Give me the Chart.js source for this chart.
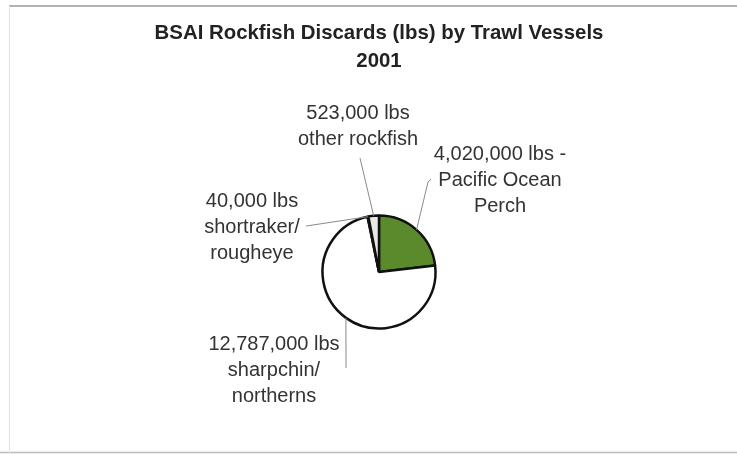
<!DOCTYPE html>
<html>
<head>
<meta charset="utf-8">
<script src="https://cdn.jsdelivr.net/npm/chart.js@4/dist/chart.umd.min.js"></script>
<style>
body{margin:0;background:#fff;}
#wrap{width:737px;height:454px;}
</style>
</head>
<body>
<div id="wrap"><canvas id="discardChart" width="737" height="454"></canvas></div>
<script>
// 2001 BSAI rockfish discards by trawl vessels
const categories = ["Pacific Ocean Perch","sharpchin/northerns","shortraker/rougheye","other rockfish"];
const discards = [4020000,12787000,40000,523000];
const nameLines = [["Pacific Ocean","Perch"],["sharpchin/","northerns"],["shortraker/","rougheye"],["other rockfish"]];
const valueSuffix = [" lbs -"," lbs"," lbs"," lbs"];
const sliceColors = ["#5a8a2c","#ffffff","#ffffff","#e9e9e9"];

// label text centre and leader line end, relative to pie centre
const labelPos = [[121,-118],[-105,72],[-127,-71],[-21,-159]];
const leaderEnd = [[49,-90],[-33,96],[-73,-46],[-19,-114]];

const labelFont = "20px 'Liberation Sans', Arial, sans-serif";

const frame = {
id:"frame",
beforeDraw(chart){
const c = chart.ctx;
c.save();
c.fillStyle = "#fff";
c.fillRect(0,0,chart.width,chart.height);
c.lineWidth = 1.5;
c.strokeStyle = "#9a9a9a";
c.beginPath(); c.moveTo(9,6); c.lineTo(737,6); c.stroke();
c.strokeStyle = "#bcbcbc";
c.beginPath(); c.moveTo(0,452.5); c.lineTo(737,452.5); c.stroke();
c.lineWidth = 1;
c.strokeStyle = "#e2e2e2";
c.beginPath(); c.moveTo(9.5,6); c.lineTo(9.5,454); c.stroke();
c.restore();
}
};

const sliceLabels = {
id:"sliceLabels",
afterDatasetsDraw(chart){
const c = chart.ctx;
const arcs = chart.getDatasetMeta(0).data;
c.save();
c.font = labelFont;
c.textAlign = "center";
c.textBaseline = "middle";
arcs.forEach((arc,i)=>{
const p = arc.getProps(["x","y","startAngle","endAngle","outerRadius"],true);
const mid = (p.startAngle+p.endAngle)/2;
const ex = p.x + Math.cos(mid)*p.outerRadius;
const ey = p.y + Math.sin(mid)*p.outerRadius;
const lx = p.x + leaderEnd[i][0];
const ly = p.y + leaderEnd[i][1];
c.strokeStyle = "#8a8a8a";
c.lineWidth = 1;
c.beginPath();
c.moveTo(ex,ey);
c.lineTo(lx,ly);
if(i===0) c.lineTo(lx+3,ly-3);
c.stroke();
const lines = [discards[i].toLocaleString("en-US")+valueSuffix[i]].concat(nameLines[i]);
c.fillStyle = "#333";
lines.forEach((t,k)=>{
c.fillText(t,p.x+labelPos[i][0],p.y+labelPos[i][1]+k*26);
});
});
c.restore();
}
};

const discardChart = new Chart(
document.getElementById("discardChart"),
{
type:"pie",
data:{
labels:categories,
datasets:[{
data:discards,
backgroundColor:sliceColors,
borderColor:"#111",
borderWidth:2.5,
borderAlign:"center",
radius:56.5
}]
},
options:{
responsive:false,
animation:false,
layout:{padding:{left:21,right:0,top:0,bottom:0}},
plugins:{
legend:{display:false},
tooltip:{enabled:false},
title:{
display:true,
text:["BSAI Rockfish Discards (lbs) by Trawl Vessels","2001"],
color:"#222",
font:{family:"'Liberation Sans', Arial, sans-serif",size:20.4,weight:"bold",lineHeight:1.4},
padding:{top:19,bottom:14}
}
}
},
plugins:[frame,sliceLabels]
});
</script>
</body>
</html>
